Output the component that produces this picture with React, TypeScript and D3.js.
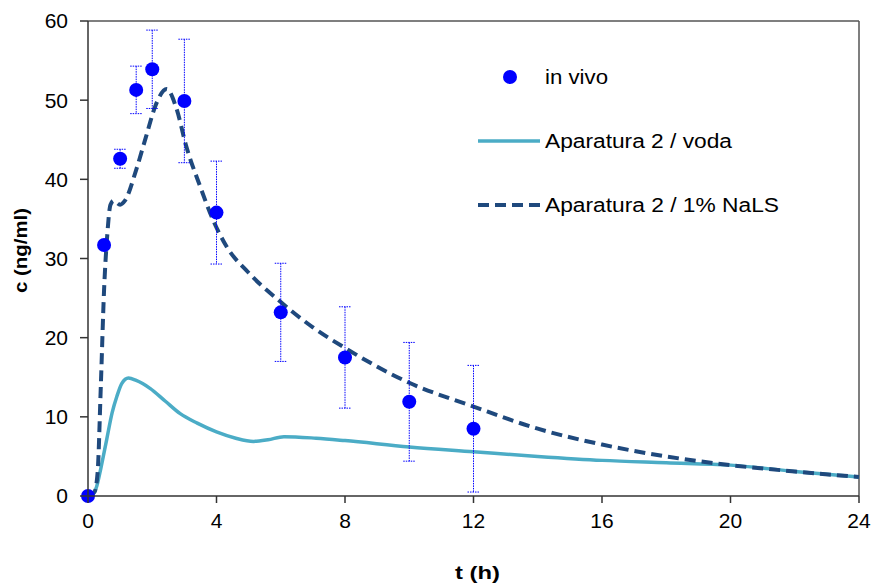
import React from "react";
import * as d3 from "d3";

const tVivo = [0, 0.5, 1, 1.5, 2, 3, 4, 6, 8, 10, 12];
const cVivo = [0, 31.7, 42.6, 51.3, 53.9, 49.9, 35.8, 23.2, 17.5, 11.9, 8.5];
const sdVivo = [0, 0, 1.2, 3.0, 4.95, 7.8, 6.5, 6.2, 6.4, 7.5, 8.0];

const tVoda = [0, 0.15, 0.27, 0.4, 0.58, 0.75, 0.9, 1.05, 1.26, 1.5, 1.93, 2.4, 2.87, 3.4, 4.0, 4.6, 5.15, 5.6, 6.1, 7.1, 8, 10, 12, 14, 16, 18, 20, 22, 24];
const cVoda = [0, 0.2, 1.2, 3.5, 7.1, 10.5, 12.6, 14.2, 14.9, 14.6, 13.6, 12.0, 10.4, 9.2, 8.1, 7.3, 6.9, 7.1, 7.5, 7.3, 7.0, 6.2, 5.6, 5.0, 4.5, 4.2, 3.9, 3.1, 2.4];

const tNaLS = [0, 0.2, 0.3, 0.4, 0.5, 0.6, 0.7, 0.8, 1.0, 1.15, 1.5, 1.8, 2.1, 2.45, 2.75, 3.05, 3.5, 3.9, 4.3, 5, 6, 7, 8, 10, 12, 14, 16, 18, 20, 22, 24];
const cNaLS = [0, 0.5, 3, 14, 26, 33, 36.8, 37.3, 36.8, 37.3, 41.2, 45.3, 49.3, 51.4, 49.0, 44.3, 39.0, 34.8, 31.6, 28.2, 24.5, 21.3, 18.7, 14.3, 11.3, 8.5, 6.5, 5.0, 3.9, 3.1, 2.4];

const xTicks = [0, 4, 8, 12, 16, 20, 24];
const yTicks = [0, 10, 20, 30, 40, 50, 60];
const legendLabels = ["in vivo", "Aparatura 2 / voda", "Aparatura 2 / 1% NaLS"];

const W = 874, H = 585;
const X0 = 88, X1 = 859, Y0 = 496, Y1 = 21;
const FONT = "'Liberation Sans', Arial, sans-serif";

export default function App() {
  const x = d3.scaleLinear().domain([0, 24]).range([X0, X1]);
  const y = d3.scaleLinear().domain([0, 60]).range([Y0, Y1]);
  const line = d3.line<[number, number]>().x(d => x(d[0])).y(d => y(d[1])).curve(d3.curveMonotoneX);
  const vodaPath = line(tVoda.map((t, i) => [t, cVoda[i]]) as [number, number][]) || "";
  const nalsPath = line(tNaLS.map((t, i) => [t, cNaLS[i]]) as [number, number][]) || "";
  const axisColor = "#333";
  return (
    <svg width={W} height={H} style={{ position: "absolute", left: 0, top: 0, background: "#fff" }} fontFamily={FONT}>
      <rect x={0} y={0} width={W} height={H} fill="#fff" />
      {/* frame */}
      <line x1={X0} x2={X1} y1={Y1} y2={Y1} stroke="#555" strokeWidth={1.5} />
      <line x1={X1} x2={X1} y1={Y1} y2={Y0} stroke="#555" strokeWidth={1.5} />
      {/* curves */}
      <path d={vodaPath} fill="none" stroke="#4BACC6" strokeWidth={3.5} />
      <path d={nalsPath} fill="none" stroke="#1F497D" strokeWidth={4} strokeDasharray="11 6" />
      {/* error bars */}
      {tVivo.map((t, i) => sdVivo[i] > 0 ? (
        <g key={"e" + i} stroke="#0000FF" strokeWidth={1} strokeDasharray="1.5 1">
          <line x1={x(t)} x2={x(t)} y1={y(cVivo[i] + sdVivo[i])} y2={y(cVivo[i] - sdVivo[i])} />
          <line x1={x(t) - 6} x2={x(t) + 6} y1={y(cVivo[i] + sdVivo[i])} y2={y(cVivo[i] + sdVivo[i])} />
          <line x1={x(t) - 6} x2={x(t) + 6} y1={y(cVivo[i] - sdVivo[i])} y2={y(cVivo[i] - sdVivo[i])} />
        </g>
      ) : null)}
      {/* points */}
      {tVivo.map((t, i) => (
        <circle key={"p" + i} cx={x(t)} cy={y(cVivo[i])} r={7} fill="#0000FF" />
      ))}
      {/* axes */}
      <line x1={X0} x2={X0} y1={Y1} y2={Y0} stroke={axisColor} strokeWidth={1.5} />
      <line x1={X0} x2={X1} y1={Y0} y2={Y0} stroke={axisColor} strokeWidth={1.5} />
      {yTicks.map(v => (
        <g key={"y" + v}>
          <line x1={X0 - 8} x2={X0} y1={y(v)} y2={y(v)} stroke={axisColor} strokeWidth={1.5} />
          <text x={68} y={y(v)} dy="0.35em" textAnchor="end" fontSize={21} fill="#000">{v}</text>
        </g>
      ))}
      {xTicks.map(v => (
        <g key={"x" + v}>
          <line x1={x(v)} x2={x(v)} y1={Y0} y2={Y0 + 7} stroke={axisColor} strokeWidth={1.5} />
          <text x={x(v)} y={528} textAnchor="middle" fontSize={21} fill="#000">{v}</text>
        </g>
      ))}
      {/* axis titles */}
      <text x={455} y={579} fontSize={19} fontWeight="bold" fill="#000" textLength={45} lengthAdjust="spacingAndGlyphs">t (h)</text>
      <text transform="translate(27,293) rotate(-90)" fontSize={19} fontWeight="bold" fill="#000" textLength={85} lengthAdjust="spacingAndGlyphs">c (ng/ml)</text>
      {/* legend */}
      <circle cx={510} cy={77} r={7} fill="#0000FF" />
      <text x={545} y={84} fontSize={20} fill="#000" textLength={63} lengthAdjust="spacingAndGlyphs">{legendLabels[0]}</text>
      <line x1={478} x2={540} y1={141} y2={141} stroke="#4BACC6" strokeWidth={3.5} />
      <text x={545} y={148} fontSize={20} fill="#000" textLength={187} lengthAdjust="spacingAndGlyphs">{legendLabels[1]}</text>
      <line x1={478} x2={540} y1={205} y2={205} stroke="#1F497D" strokeWidth={4} strokeDasharray="11 6" />
      <text x={545} y={212} fontSize={20} fill="#000" textLength={234} lengthAdjust="spacingAndGlyphs">{legendLabels[2]}</text>
    </svg>
  );
}
